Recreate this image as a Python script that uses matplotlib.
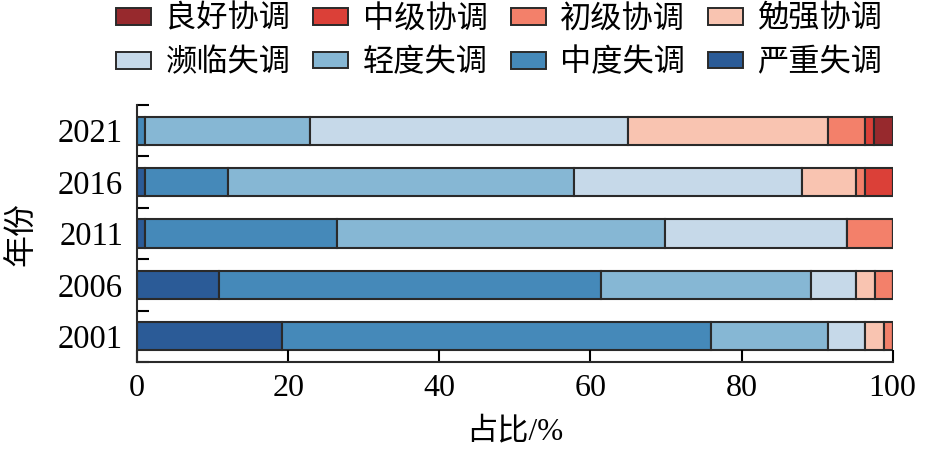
import matplotlib
matplotlib.use("Agg")
import matplotlib.pyplot as plt
from matplotlib.patches import Patch
from matplotlib.ticker import FixedLocator
import numpy as np

plt.rcParams['font.family'] = ['Liberation Serif', 'Noto Sans CJK SC', 'DejaVu Sans']

years = ['2001', '2006', '2011', '2016', '2021']
levels = ['严重失调', '中度失调', '轻度失调', '濒临失调', '勉强协调', '初级协调', '中级协调', '良好协调']
colors = ['#2b5b97', '#4589b9', '#86b7d4', '#c6d9e9', '#f9c4b1', '#f3806a', '#db4038', '#97292d']

severe       = [19.2, 10.8, 1.1, 1.1, 0.0]
moderate     = [56.7, 50.6, 25.4, 10.9, 1.1]
mild         = [15.6, 27.8, 43.4, 45.8, 21.8]
near         = [4.85, 5.9, 24.0, 30.2, 42.1]
barely       = [2.45, 2.5, 0.0, 7.1, 26.5]
primary      = [1.2, 2.4, 6.1, 1.25, 4.85]
intermediate = [0.0, 0.0, 0.0, 3.65, 1.15]
good         = [0.0, 0.0, 0.0, 0.0, 2.5]

series = [severe, moderate, mild, near, barely, primary, intermediate, good]

fig = plt.figure(figsize=(9.26, 4.5), dpi=100)
ax = fig.add_axes([0.148, 0.1956, 0.816, 0.571])

y = np.arange(len(years))
left = np.zeros(len(years))
handles = {}
for name, vals, c in zip(levels, series, colors):
    vals = np.array(vals)
    ax.barh(y, vals, left=left, height=0.55, color=c, edgecolor='#2a2a2a', linewidth=1.5)
    left += vals
    handles[name] = Patch(facecolor=c, edgecolor='#2a2a2a', linewidth=1.4)

ax.set_xlim(0, 100)
ax.set_ylim(-0.5, 4.5)
ax.set_yticks(y)
ax.set_yticklabels(years)
ax.yaxis.set_minor_locator(FixedLocator(np.arange(-0.5, 5, 1)))
ax.tick_params(axis='y', which='major', length=0, pad=10, labelsize=23.5)
ax.tick_params(axis='y', which='minor', length=8.5, width=1.5, direction='in')
ax.set_xticks([0, 20, 40, 60, 80, 100])
ax.tick_params(axis='x', which='major', length=8.5, width=1.5, direction='in', pad=9, labelsize=23)
for s in ['top', 'right']:
    ax.spines[s].set_visible(False)
for s in ['left', 'bottom']:
    ax.spines[s].set_linewidth(1.5)
    ax.spines[s].set_color('#2a2a2a')

ax.set_xlabel('占比/%', fontsize=22.5, labelpad=10)
ax.set_ylabel('年份', fontsize=23, labelpad=15)

order = ['良好协调', '濒临失调', '中级协调', '轻度失调', '初级协调', '中度失调', '勉强协调', '严重失调']
fig.legend([handles[k] for k in order], order, loc='upper center', bbox_to_anchor=(0.539, 1.05),
           ncol=4, frameon=False, fontsize=22.5, handlelength=1.12, handleheight=0.45,
           handletextpad=0.45, columnspacing=0.74, labelspacing=0.45)

fig.savefig('out.png', dpi=100)
